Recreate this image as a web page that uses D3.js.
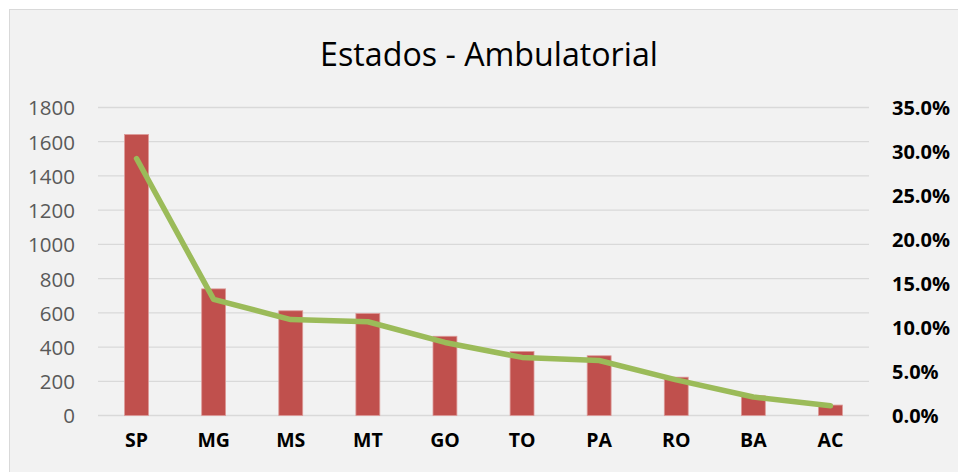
<!DOCTYPE html>
<html>
<head>
<meta charset="utf-8">
<script src="https://cdn.jsdelivr.net/npm/d3@7"></script>
<style>
  html, body { margin: 0; padding: 0; background: #ffffff; }
  svg { display: block; }
</style>
</head>
<body>
<svg id="chart" width="958" height="472"></svg>
<script>
// ---- data ----
const categories = ["SP", "MG", "MS", "MT", "GO", "TO", "PA", "RO", "BA", "AC"];
const counts = [1642, 740, 612, 596, 463, 374, 349, 224, 115, 61];
const percents = [29.2, 13.2, 10.9, 10.65, 8.3, 6.6, 6.25, 4.05, 2.1, 1.1];
const leftTicks = [0, 200, 400, 600, 800, 1000, 1200, 1400, 1600, 1800];
const rightTicks = [0, 5, 10, 15, 20, 25, 30, 35];
const title = "Estados - Ambulatorial";

// ---- layout ----
const W = 958, H = 472;
const plot = { left: 98, right: 869, top: 107.5, bottom: 415.5 };
const svg = d3.select("#chart");

// chart area background
svg.append("rect")
  .attr("x", 9.5).attr("y", 9.5)
  .attr("width", W + 10).attr("height", H + 10)
  .attr("fill", "#f2f2f2")
  .attr("stroke", "#d9d9d9").attr("stroke-width", 1);

const x = d3.scaleBand().domain(categories).range([plot.left, plot.right]).paddingInner(0.69).paddingOuter(0.345);
const yL = d3.scaleLinear().domain([0, 1800]).range([plot.bottom, plot.top]);
const yR = d3.scaleLinear().domain([0, 35]).range([plot.bottom, plot.top]);

// gridlines
svg.append("g")
  .selectAll("line").data(leftTicks).join("line")
  .attr("x1", plot.left).attr("x2", plot.right)
  .attr("y1", d => yL(d)).attr("y2", d => yL(d))
  .attr("stroke", "#d9d9d9").attr("stroke-width", 1.3);

// left axis
const axL = svg.append("g")
  .attr("transform", `translate(${plot.left},0)`)
  .call(d3.axisLeft(yL).tickValues(leftTicks).tickSize(0).tickPadding(23).tickFormat(d3.format("d")));
axL.select(".domain").remove();
axL.selectAll("text")
  .attr("font-family", "'Open Sans', sans-serif")
  .attr("font-size", 20.5)
  .attr("fill", "#595959")
  .attr("dy", "0.36em");

// right axis
const axR = svg.append("g")
  .attr("transform", `translate(${plot.right},0)`)
  .call(d3.axisRight(yR).tickValues(rightTicks).tickSize(0).tickPadding(23).tickFormat(d => d3.format(".1f")(d) + "%"));
axR.select(".domain").remove();
axR.selectAll("text")
  .attr("font-family", "'Open Sans', sans-serif")
  .attr("font-weight", "bold")
  .attr("font-size", 20)
  .attr("fill", "#000000")
  .attr("dy", "0.36em");

// bars
svg.append("g")
  .selectAll("rect").data(categories).join("rect")
  .attr("x", d => x(d))
  .attr("width", x.bandwidth())
  .attr("y", (d, i) => yL(counts[i]))
  .attr("height", (d, i) => yL(0) - yL(counts[i]))
  .attr("fill", "#c0504d")
  .attr("stroke", "#dc9a98").attr("stroke-width", 0.8);

// x axis labels
const axX = svg.append("g")
  .attr("transform", `translate(0,${plot.bottom})`)
  .call(d3.axisBottom(x).tickSize(0).tickPadding(24));
axX.select(".domain").remove();
axX.selectAll("text")
  .attr("font-family", "'Open Sans', sans-serif")
  .attr("font-weight", "bold")
  .attr("font-size", 19.5)
  .attr("fill", "#000000")
  .attr("dy", "0.36em");

// line
const line = d3.line()
  .x((d, i) => x(categories[i]) + x.bandwidth() / 2)
  .y(d => yR(d));
svg.append("path")
  .datum(percents)
  .attr("d", line)
  .attr("fill", "none")
  .attr("stroke", "#9bbb59")
  .attr("stroke-width", 5.5)
  .attr("stroke-linejoin", "round")
  .attr("stroke-linecap", "round");

// title
const t = svg.append("text")
  .attr("x", 489).attr("y", 66)
  .attr("text-anchor", "middle")
  .attr("font-family", "'Open Sans', sans-serif")
  .attr("font-size", 32)
  .attr("fill", "#000000")
  .text(title);
const tw = t.node().getComputedTextLength();
t.attr("font-size", 32 * 338 / tw);
</script>
</body>
</html>
